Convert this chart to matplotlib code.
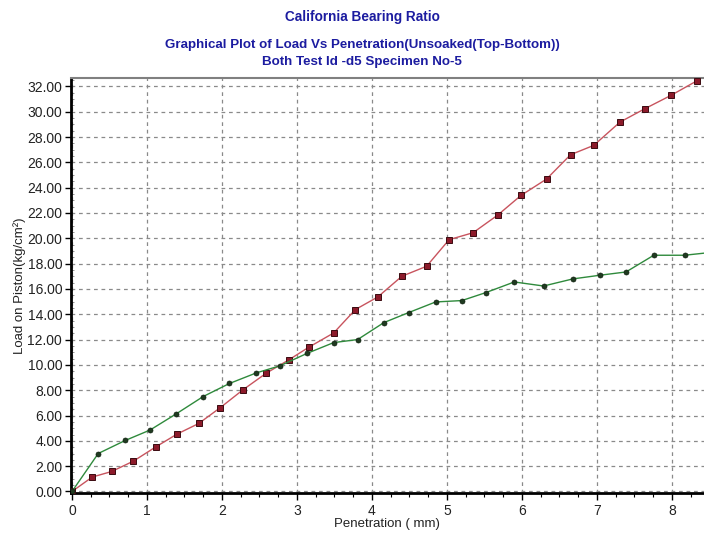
import matplotlib
matplotlib.use("Agg")
import matplotlib.pyplot as plt
from matplotlib.ticker import MultipleLocator, FormatStrFormatter
from matplotlib import font_manager

# --- data ---
pen_top = [0.00, 0.27, 0.53, 0.82, 1.12, 1.40, 1.69, 1.98, 2.28, 2.59, 2.89, 3.16,
           3.49, 3.78, 4.08, 4.40, 4.73, 5.03, 5.35, 5.68, 5.99, 6.33, 6.65, 6.96,
           7.31, 7.64, 7.99, 8.33]
load_top = [0.00, 1.14, 1.58, 2.40, 3.53, 4.53, 5.37, 6.63, 8.03, 9.34, 10.39, 11.40,
            12.52, 14.37, 15.37, 17.00, 17.79, 19.89, 20.44, 21.84, 23.39, 24.68, 26.60,
            27.34, 29.18, 30.23, 31.29, 32.42]
pen_bot = [0.00, 0.35, 0.71, 1.04, 1.39, 1.75, 2.10, 2.46, 2.77, 3.14, 3.49, 3.81,
           4.16, 4.49, 4.85, 5.20, 5.52, 5.90, 6.29, 6.68, 7.04, 7.39, 7.76, 8.17, 8.55]
load_bot = [0.00, 3.00, 4.03, 4.85, 6.13, 7.50, 8.53, 9.37, 9.92, 10.92, 11.76, 12.00,
            13.34, 14.13, 14.97, 15.08, 15.71, 16.55, 16.23, 16.79, 17.08, 17.34, 18.66,
            18.66, 18.90]
y_ticks = [0, 2, 4, 6, 8, 10, 12, 14, 16, 18, 20, 22, 24, 26, 28, 30, 32]
x_ticks = [0, 1, 2, 3, 4, 5, 6, 7, 8]

avail = {f.name for f in font_manager.fontManager.ttflist}
title_font = "Liberation Sans Narrow" if "Liberation Sans Narrow" in avail else "Liberation Sans"
body_font = "Liberation Sans"

fig = plt.figure(figsize=(7.04, 5.34), dpi=100)
ax = fig.add_axes([70.5 / 704, (534 - 493) / 534, 1 - 70.5 / 704, (493 - 77.5) / 534])

ax.plot(pen_top, load_top, color="#c8545e", lw=1.0, marker="s", ms=5.0,
        mfc="#8c1a2a", mec="#3a0a10", mew=0.7, zorder=3, clip_on=True)
ax.plot(pen_bot, load_bot, color="#2f8a3c", lw=1.0, marker="o", ms=3.6,
        mfc="#1f3a20", mec="#102010", mew=0.5, zorder=4, clip_on=True)

ax.set_xlim(-0.02, 8.43)
ax.set_ylim(-0.12, 32.7)
ax.set_xticks(x_ticks)
ax.set_yticks(y_ticks)
ax.xaxis.set_minor_locator(MultipleLocator(0.25))
ax.yaxis.set_minor_locator(MultipleLocator(0.5))
ax.yaxis.set_major_formatter(FormatStrFormatter("%.2f"))

ax.grid(True, which="major", color="#8a8a8a", linestyle=(0, (3, 3)), lw=0.9)
ax.set_axisbelow(True)

for s in ("left", "bottom"):
    ax.spines[s].set_linewidth(2.0)
    ax.spines[s].set_color("black")
ax.spines["top"].set_color("#808080")
ax.spines["top"].set_linewidth(1.5)
ax.spines["right"].set_visible(False)

ax.tick_params(axis="x", which="major", direction="out", length=5, width=1,
               labelsize=10, labelcolor="#222222", pad=3)
ax.tick_params(axis="x", which="minor", direction="out", length=3, width=0.8)
ax.tick_params(axis="y", which="major", direction="out", length=4, width=1,
               labelsize=10, labelcolor="#222222", pad=2)
ax.tick_params(axis="y", which="minor", direction="in", length=2.5, width=0.5, color="#666666")
for lab in ax.get_xticklabels() + ax.get_yticklabels():
    lab.set_fontfamily(body_font)

ax.set_xlabel("Penetration ( mm)", fontsize=9.5, family=body_font, color="#222222", labelpad=0)
ax.set_ylabel("Load on Piston(kg/cm²)", fontsize=9.5, family=body_font, color="#222222", labelpad=1)

title_color = "#1c1ca0"
fig.text(362 / 704, 1 - 17 / 534, "California Bearing Ratio", ha="center", va="center",
         fontsize=9.8, fontweight="bold", family=title_font, color=title_color)
fig.text(362 / 704, 1 - 45 / 534, "Graphical Plot of Load Vs Penetration(Unsoaked(Top-Bottom))",
         ha="center", va="center", fontsize=9.6, fontweight="bold", family=title_font, color=title_color)
fig.text(362 / 704, 1 - 62 / 534, "Both Test Id -d5 Specimen No-5", ha="center", va="center",
         fontsize=9.6, fontweight="bold", family=title_font, color=title_color)

fig.savefig("out.png", dpi=100)
